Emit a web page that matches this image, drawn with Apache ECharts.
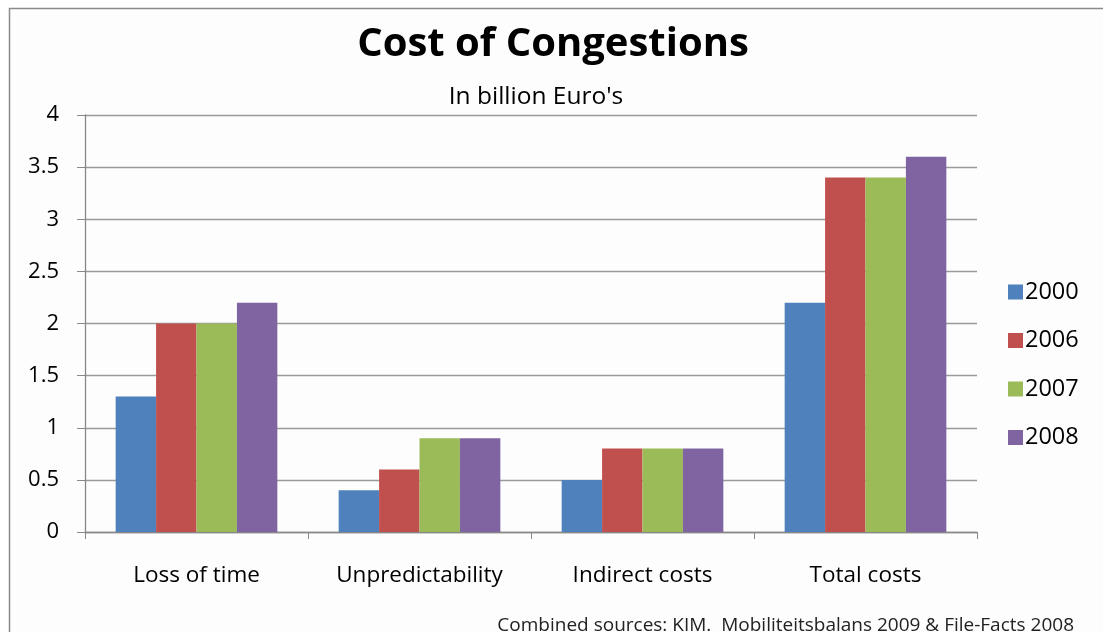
<!DOCTYPE html>
<html>
<head>
<meta charset="utf-8">
<script src="https://cdn.jsdelivr.net/npm/echarts@6/dist/echarts.min.js"></script>
<style>
  html, body { margin: 0; padding: 0; background: #ffffff; }
  #chart { width: 1103px; height: 632px; }
</style>
</head>
<body>
<div id="chart"></div>
<script>
// Congestion cost per category, in billion euro
const categories = ['Loss of time', 'Unpredictability', 'Indirect costs', 'Total costs'];
const years = ['2000', '2006', '2007', '2008'];
const values2000 = [1.3, 0.4, 0.5, 2.2];
const values2006 = [2.0, 0.6, 0.8, 3.4];
const values2007 = [2.0, 0.9, 0.8, 3.4];
const values2008 = [2.2, 0.9, 0.8, 3.6];
const seriesValues = [values2000, values2006, values2007, values2008];
const colors = ['#4f81bd', '#c0504d', '#9bbb59', '#8064a2'];

const font = '"Open Sans", "Noto Sans", sans-serif';
const chart = echarts.init(document.getElementById('chart'));

chart.setOption({
  backgroundColor: '#ffffff',
  animation: false,
  graphic: [
    {
      type: 'rect',
      shape: { x: 9.5, y: 8.5, width: 1110, height: 640 },
      style: { fill: '#fdfdfd', stroke: '#8a8a8a', lineWidth: 1.5 },
      z: -10
    }
  ],
  title: [
    {
      text: 'Cost of Congestions',
      left: 548, top: 20, textAlign: 'center',
      textStyle: { fontFamily: font, fontWeight: 'bold', fontSize: 40, color: '#000' }
    },
    {
      text: "In billion Euro's",
      left: 531, top: 80, textAlign: 'center',
      textStyle: { fontFamily: font, fontWeight: 'normal', fontSize: 24.5, color: '#000' }
    },
    {
      text: 'Combined sources: KIM.  Mobiliteitsbalans 2009 & File-Facts 2008',
      right: 24, top: 611,
      textStyle: { fontFamily: font, fontWeight: 'normal', fontSize: 19, color: '#222' }
    }
  ],
  legend: {
    orient: 'vertical',
    left: 1003, top: 275,
    itemWidth: 15, itemHeight: 15, itemGap: 24.5,
    icon: 'rect',
    data: years,
    textStyle: { fontFamily: font, fontSize: 23.5, color: '#000', padding: [0, 0, 0, -3] }
  },
  grid: { left: 85, top: 115, width: 892, height: 417, containLabel: false },
  xAxis: {
    type: 'category',
    data: categories,
    axisLine: { lineStyle: { color: '#888', width: 1.3 } },
    axisTick: { show: true, length: 7, lineStyle: { color: '#888' } },
    axisLabel: { fontFamily: font, fontSize: 22.5, color: '#000', margin: 32 }
  },
  yAxis: {
    type: 'value',
    min: 0, max: 4, interval: 0.5,
    axisLine: { show: true, lineStyle: { color: '#888', width: 1.3 } },
    axisTick: { show: true, length: 8, inside: false, lineStyle: { color: '#888' } },
    splitLine: { lineStyle: { color: '#9a9a9a', width: 1.3 } },
    axisLabel: { fontFamily: font, fontSize: 22, color: '#000', margin: 26 }
  },
  series: years.map((y, i) => ({
    name: y,
    type: 'bar',
    data: seriesValues[i],
    barGap: '0%',
    barCategoryGap: '27.5%',
    itemStyle: { color: colors[i] }
  }))
});
</script>
</body>
</html>
